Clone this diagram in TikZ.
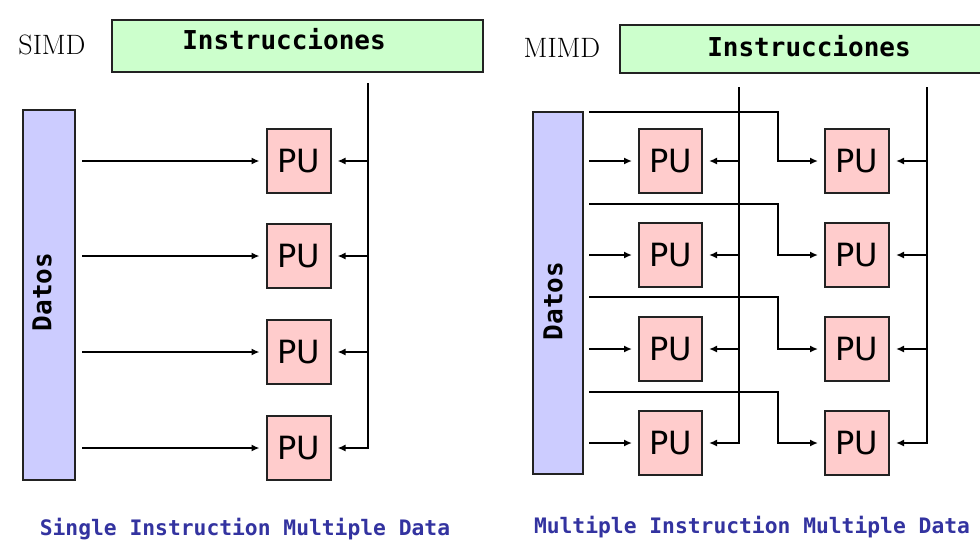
\documentclass[tikz,border=0pt]{standalone}
\usepackage{fontspec}
\usetikzlibrary{arrows.meta}
\newfontfamily\monofont{DejaVu Sans Mono}
\newfontfamily\pufont{DejaVu Sans}
\definecolor{instrgreen}{HTML}{CCFFCC}
\definecolor{datlav}{HTML}{CCCCFF}
\definecolor{pupink}{HTML}{FFCCCC}
\definecolor{capblue}{RGB}{51,51,160}
\definecolor{edge}{HTML}{222222}
\tikzset{
  box/.style={draw=edge, line width=2pt, inner sep=0pt},
  instrbox/.style={box, fill=instrgreen, minimum height=50pt},
  datbox/.style={box, fill=datlav},
  pubox/.style={box, fill=pupink, minimum width=64pt, minimum height=64pt, font=\pufont\fontsize{32}{32}\selectfont},
  boxtext/.style={font=\monofont\bfseries\fontsize{26}{26}\selectfont, inner sep=0pt},
  archlabel/.style={font=\fontsize{28}{28}\selectfont, inner sep=0pt},
  caption/.style={font=\monofont\bfseries\fontsize{21.3}{22}\selectfont, text=capblue, inner sep=0pt},
  wire/.style={draw=black, line width=1.9pt},
  arr/.style={wire, -{Latex[length=8pt,width=7pt]}, shorten >=6pt},
}
\begin{document}
\begin{tikzpicture}[x=1pt,y=-1pt]
\useasboundingbox (0,0) rectangle (980,544);
\fill[white] (0,0) rectangle (980,544);

% ---------------- SIMD ----------------
\node[archlabel] (simd) at (52,45) {SIMD};
\node[instrbox, minimum width=371pt, minimum height=52pt] (i1) at (297.5,46) {};
\node[boxtext] (i1t) at (284,39) {Instrucciones};
\node[datbox, minimum width=52pt, minimum height=370pt] (d1) at (49,295) {};
\node[boxtext, rotate=90] (d1t) at (42,292) {Datos};

\node[pubox] (s1) at (298.5,161) {PU};
\node[pubox] (s2) at (298.5,256) {PU};
\node[pubox] (s3) at (298.5,352) {PU};
\node[pubox] (s4) at (298.5,448) {PU};

\coordinate (v1) at (368,83);
\coordinate (dx1) at (82,0);
\draw[arr] (v1) |- (s4.east);
\foreach \p in {s1,s2,s3} {
  \draw[arr] (v1 |- \p.east) -- (\p.east);
}
\foreach \p in {s1,s2,s3,s4} {
  \draw[arr] (dx1 |- \p.west) -- (\p.west);
}

% ---------------- MIMD ----------------
\node[archlabel] (mimd) at (562,48) {MIMD};
\node[instrbox, minimum width=372pt, minimum height=48pt] (i2) at (806,49) {};
\node[boxtext] (i2t) at (809,46) {Instrucciones};
\node[datbox, minimum width=50pt, minimum height=362pt] (d2) at (558,293) {};
\node[boxtext, rotate=90] (d2t) at (553,301) {Datos};

\node[pubox, minimum width=63pt] (a1) at (670.5,161) {PU};
\node[pubox, minimum width=63pt] (a2) at (670.5,255) {PU};
\node[pubox, minimum width=63pt] (a3) at (670.5,349) {PU};
\node[pubox, minimum width=63pt] (a4) at (670.5,443) {PU};
\node[pubox] (b1) at (857,161) {PU};
\node[pubox] (b2) at (857,255) {PU};
\node[pubox] (b3) at (857,349) {PU};
\node[pubox] (b4) at (857,443) {PU};

\coordinate (dx2) at (589,0);
\coordinate (bend) at (778,0);
\coordinate (t1) at (589,112);
\coordinate (t2) at (589,204);
\coordinate (t3) at (589,297);
\coordinate (t4) at (589,392);

% data to first column
\foreach \p in {a1,a2,a3,a4} {
  \draw[arr] (dx2 |- \p.west) -- (\p.west);
}
% data to second column
\foreach \t/\p in {t1/b1,t2/b2,t3/b3,t4/b4} {
  \draw[arr] (\t) -- (bend |- \t) -- (bend |- \p.west) -- (\p.west);
}

% instruction lines
\coordinate (v2) at (739,87);
\coordinate (v3) at (927,87);
\draw[arr] (v2) |- (a4.east);
\draw[arr] (v3) |- (b4.east);
\foreach \p in {a1,a2,a3} {
  \draw[arr] (v2 |- \p.east) -- (\p.east);
}
\foreach \p in {b1,b2,b3} {
  \draw[arr] (v3 |- \p.east) -- (\p.east);
}

% captions
\node[caption] (c1) at (245,529) {Single Instruction Multiple Data};
\node[caption] (c2) at (752,527) {Multiple Instruction Multiple Data};
\end{tikzpicture}
\end{document}
